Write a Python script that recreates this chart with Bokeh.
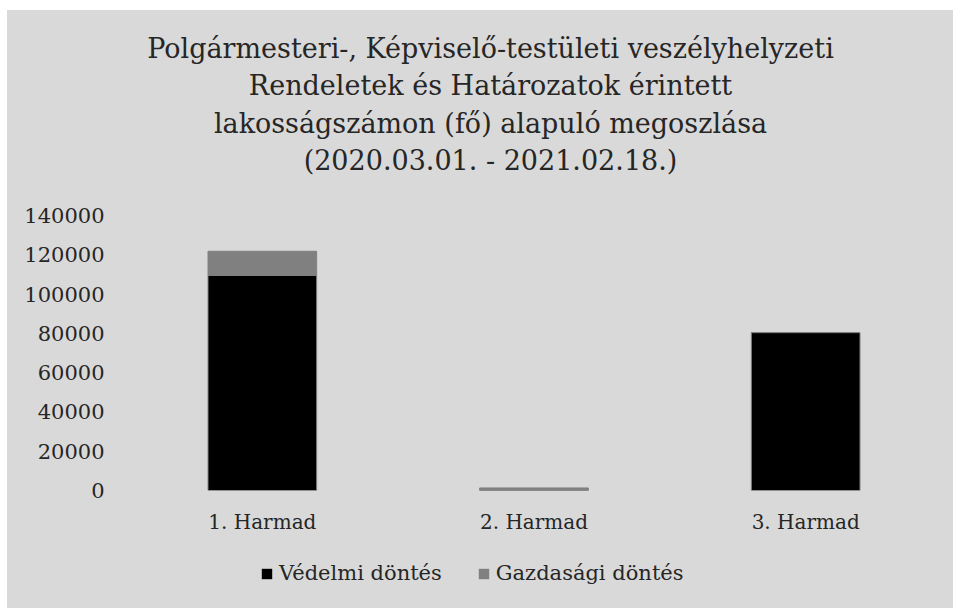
from bokeh.plotting import figure
from bokeh.layouts import column
from bokeh.models import FactorRange, Range1d, FixedTicker, Legend, LegendItem, NumeralTickFormatter
from bokeh.core.properties import value
from bokeh.embed import file_html
from bokeh.resources import INLINE

title_lines = [
    "Polgármesteri-, Képviselő-testületi veszélyhelyzeti",
    "Rendeletek és Határozatok érintett",
    "lakosságszámon (fő) alapuló megoszlása",
    "(2020.03.01. - 2021.02.18.)",
]
title_rows = [3, 2, 1, 0]
categories = ["1. Harmad", "2. Harmad", "3. Harmad"]
vedelmi = [109500, 300, 80400]
gazdasagi = [12300, 1000, 0]
series_names = ["Védelmi döntés", "Gazdasági döntés"]
series_colors = ["#000000", "#808080"]
y_ticks = [0, 20000, 40000, 60000, 80000, 100000, 120000, 140000]

FONT = "DejaVu Serif"
BG = "#d9d9d9"
TXT = "#262626"
EDGE = "#808080"


def plain(fig):
    fig.background_fill_color = BG
    fig.border_fill_color = BG
    fig.outline_line_color = None
    fig.xgrid.grid_line_color = None
    fig.ygrid.grid_line_color = None
    fig.styles = {"background-color": BG}


# title strip
tf = figure(width=946, height=175, output_backend="svg", toolbar_location=None,
            x_range=Range1d(0, 1), y_range=Range1d(-0.67, 4.018),
            x_axis_location=None, y_axis_location=None,
            min_border_left=20, min_border_right=0, min_border_top=0, min_border_bottom=0)
tf.frame_align = False
plain(tf)
tf.text(x=[0.5] * len(title_lines), y=title_rows, text=title_lines,
        text_font=value(FONT), text_font_size="27px", text_color=TXT,
        text_align="center", text_baseline="middle")

# main chart
p = figure(width=946, height=370, output_backend="svg", toolbar_location=None,
           x_range=FactorRange(factors=categories, range_padding=0),
           y_range=Range1d(0, 140000),
           min_border_left=119, min_border_right=12, min_border_bottom=65, min_border_top=30)
plain(p)

src = dict(x=categories, v=vedelmi, g=gazdasagi)
p.vbar_stack(["v", "g"], x="x", width=0.4, source=src,
             fill_color=series_colors, line_color=EDGE, line_width=1)

for ax in (p.xaxis[0], p.yaxis[0]):
    ax.axis_line_color = None
    ax.major_tick_line_color = None
    ax.minor_tick_line_color = None
    ax.major_label_text_font = FONT
    ax.major_label_text_color = TXT

p.yaxis[0].major_label_text_font_size = "21px"
p.xaxis[0].major_label_text_font_size = "20px"
p.yaxis[0].ticker = FixedTicker(ticks=y_ticks)
p.yaxis[0].formatter = NumeralTickFormatter(format="0")
p.yaxis[0].major_tick_out = 0
p.yaxis[0].major_label_standoff = 22
p.xaxis[0].major_tick_out = 0
p.xaxis[0].major_label_standoff = 19

# legend strip below the chart
lg = figure(width=946, height=53, output_backend="svg", toolbar_location=None,
            x_range=Range1d(0, 1), y_range=Range1d(0, 1),
            x_axis_location=None, y_axis_location=None,
            min_border_left=119, min_border_right=12, min_border_top=0, min_border_bottom=0)
lg.frame_align = False
plain(lg)
dummies = [lg.vbar(x=[0.5], top=[0], bottom=[0], width=0.1, fill_color=series_colors[i],
                   line_color=EDGE, line_alpha=0)
           for i in range(2)]
legend = Legend(items=[LegendItem(label=series_names[i], renderers=[dummies[i]]) for i in range(2)],
                orientation="horizontal", location=(134, 23),
                background_fill_alpha=0, border_line_color=None,
                label_text_font=FONT, label_text_font_size="21px", label_text_color=TXT,
                glyph_width=13, glyph_height=13, spacing=35, label_standoff=6,
                padding=0, margin=0)
lg.add_layout(legend, "center")

layout = column(tf, p, lg, spacing=0, margin=(10, 0, 0, 7), styles={"background-color": BG})
open("out.html", "w").write(file_html(layout, INLINE))
